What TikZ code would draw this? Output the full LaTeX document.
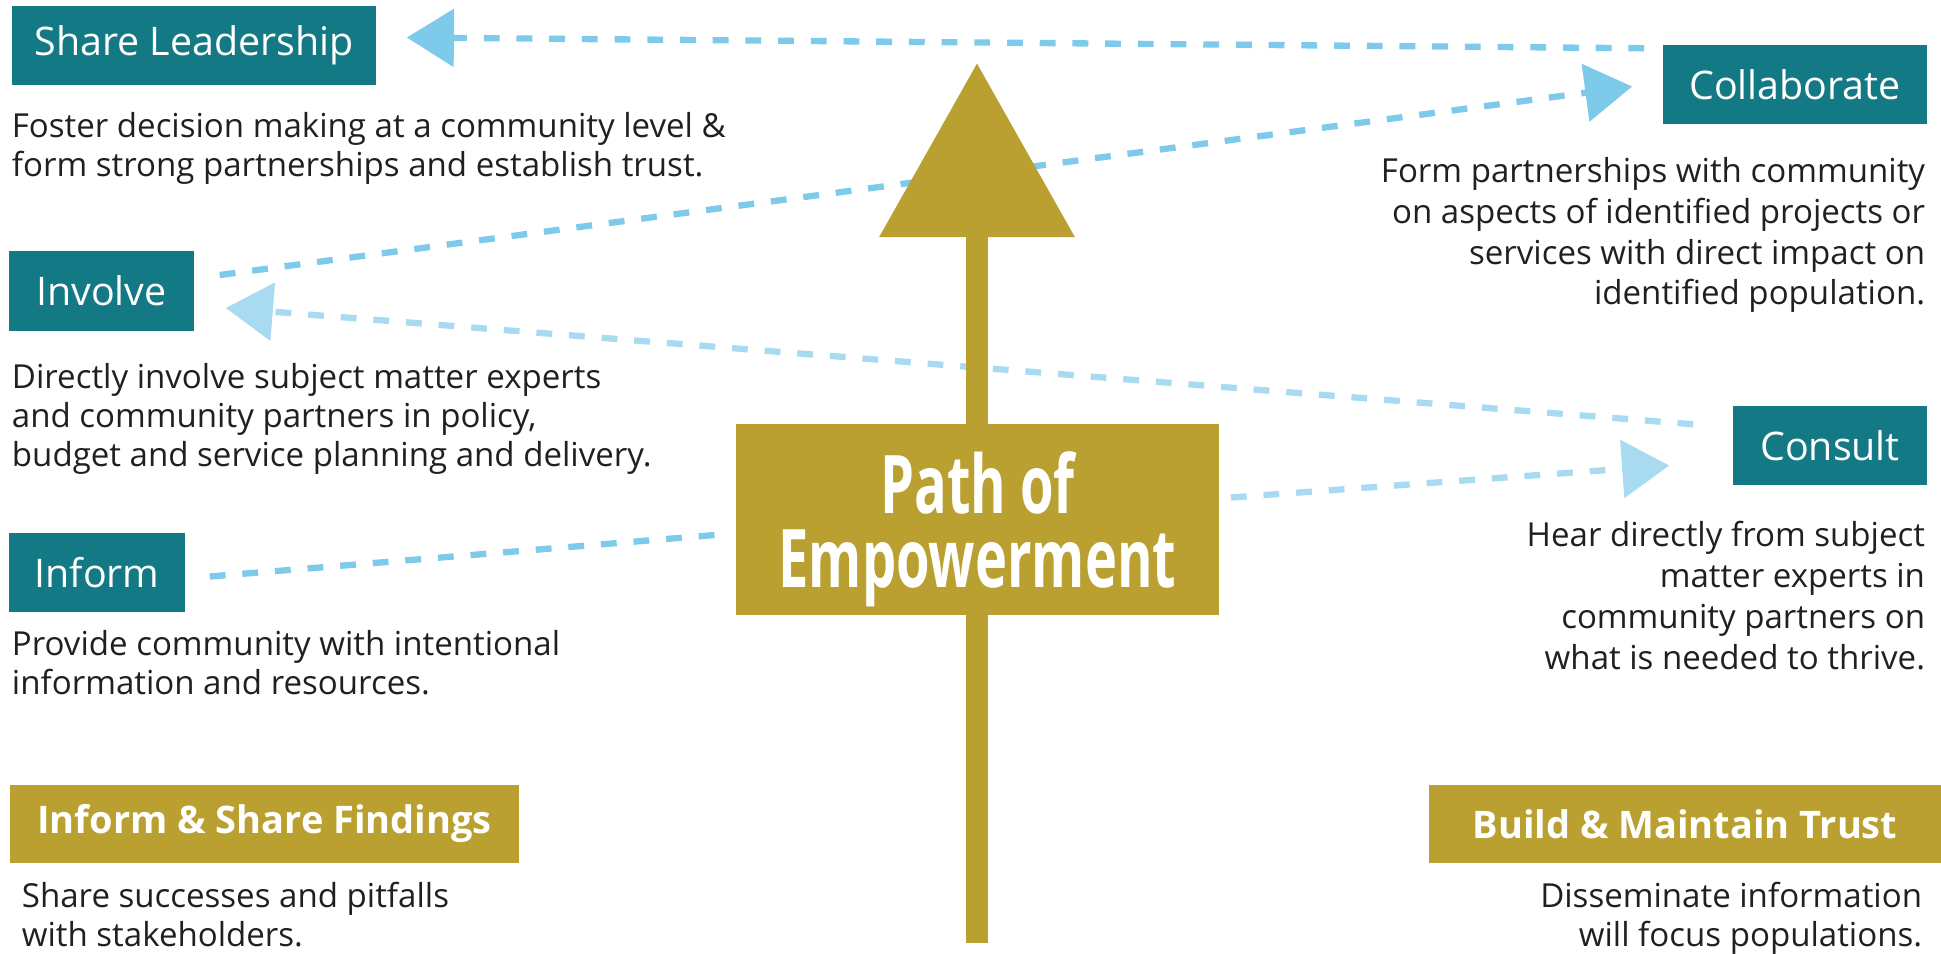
\documentclass[tikz,border=0pt]{standalone}
\usepackage{fontspec}
\setmainfont{Open Sans}
\newfontfamily\narrowfont[FakeStretch=0.67]{Open Sans}
\usetikzlibrary{positioning, arrows.meta, calc}

\definecolor{stageteal}{HTML}{137A85}
\definecolor{pathgold}{HTML}{B9A030}
\definecolor{linkblue}{HTML}{7DCAEB}
\definecolor{linkpale}{HTML}{A8DAF1}
\definecolor{bodyink}{HTML}{231F20}

\begin{document}
\begin{tikzpicture}[x=0.01cm, y=-0.01cm,
    stage/.style={fill=stageteal, text=white, font=\fontsize{11.2}{13}\selectfont, minimum height=0.79cm, inner sep=0pt},
    goal/.style={fill=pathgold, text=white, font=\fontsize{10.8}{13}\selectfont\bfseries, minimum height=0.78cm, inner sep=0pt},
    note/.style={text=bodyink, font=\fontsize{9.4}{11.2}\selectfont, inner sep=0pt, align=left},
    note right/.style={note, font=\fontsize{9.4}{11.6}\selectfont, align=right},
    link/.style={linkblue, line width=1.8pt, dash pattern=on 4.5pt off 4.8pt, -{Triangle[length=13.4pt, width=16.2pt]}}
  ]
  \useasboundingbox (0,0) rectangle (1941,954);

  % Stages and notes
  \node[stage, minimum width=3.64cm] (share) at (194,45.5) {Share Leadership};
  \node[note, below right=0.26cm and 0cm of share.south west] (shareNote)
    {Foster decision making at a community level \&\\form strong partnerships and establish trust.};

  \node[stage, minimum width=2.64cm] (collab) at (1795,84.5) {Collaborate};
  \node[note right, below left=0.32cm and 0.02cm of collab.south east] (collabNote)
    {Form partnerships with community\\on aspects of identified projects or\\services with direct impact on\\identified population.};

  \node[stage, minimum width=1.85cm] (involve) at (101.5,291) {Involve};
  \node[note, below right=0.31cm and 0.03cm of involve.south west] (involveNote)
    {Directly involve subject matter experts\\and community partners in policy,\\budget and service planning and delivery.};

  \node[stage, minimum width=1.94cm] (consult) at (1830,445.5) {Consult};
  \node[note right, below left=0.35cm and 0.02cm of consult.south east] (consultNote)
    {Hear directly from subject\\matter experts in\\community partners on\\what is needed to thrive.};

  \node[stage, minimum width=1.76cm] (inform) at (97,572.5) {Inform};
  \node[note, below right=0.17cm and 0.03cm of inform.south west] (informNote)
    {Provide community with intentional\\information and resources.};

  \node[goal, minimum width=5.09cm] (findings) at (264.5,824) {Inform \& Share Findings};
  \node[note, font=\fontsize{9.4}{11}\selectfont, below right=0.18cm and 0.12cm of findings.south west] (findingsNote)
    {Share successes and pitfalls\\with stakeholders.};

  \node[goal, minimum width=5.12cm] (trust) at (1685,824) {Build \& Maintain Trust};
  \node[note right, font=\fontsize{9.4}{11}\selectfont, below left=0.18cm and 0.19cm of trust.south east] (trustNote)
    {Disseminate information\\will focus populations.};

  % Links behind the path
  \draw[link] ($(collab.north west)+(-18,4)$) -- ($(share.east)+(30,-8)$);
  \draw[link] ($(involve.east)+(25,-16)$) -- ($(collab.west)+(-30,2)$);
  \draw[link, linkpale] ($(consult.north west)+(-39,19)$) -- ($(involve.east)+(31,17)$);

  % Path of empowerment
  \coordinate (pathFoot) at (977,943);
  \coordinate (pathTip) at (977,63);
  \draw[pathgold, line width=6.3pt, -{Triangle[length=49.5pt, width=54pt]}] (pathFoot) -- (pathTip);
  \node[fill=pathgold, text=white, minimum width=4.83cm, minimum height=1.91cm, align=center, text depth=0pt,
        font=\narrowfont\bfseries\fontsize{23}{20.8}\selectfont] (path) at (977.5,519.5) {Path of\\Empowerment};

  \draw[link, linkpale] ($(path.east)+(11,-22)$) -- ($(consult.west)+(-63,20)$);
  \draw[link, -] ($(inform.east)+(24,4)$) -- ($(path.west)+(-14,15)$);
\end{tikzpicture}
\end{document}
